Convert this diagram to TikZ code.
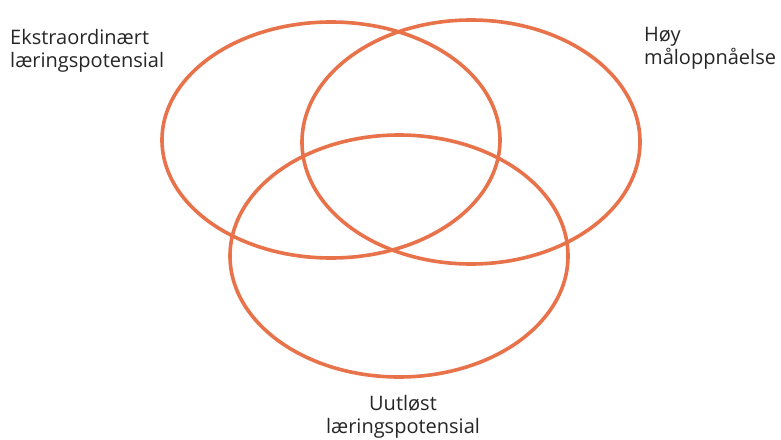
\documentclass[tikz,border=0pt]{standalone}
\usepackage{fontspec}
\setmainfont{Open Sans}
\usetikzlibrary{positioning,shapes.geometric}

\definecolor{ringorange}{RGB}{232,114,74}
\tikzset{
  ring/.style={ellipse, draw=ringorange, line width=3.6pt, inner sep=0pt},
  label/.style={font=\fontsize{20}{23.5}\selectfont, text=black!85, inner sep=0pt}
}

\begin{document}
\begin{tikzpicture}[x=1pt, y=-1pt]
    \useasboundingbox (0,0) rectangle (781,439);
    % three rings
    \node[ring, minimum width=338pt, minimum height=236pt] (ekstra) at (331,140) {};
    \node[ring, minimum width=338pt, minimum height=244pt] (hoy) at (471,142) {};
    \node[ring, minimum width=338pt, minimum height=242pt] (uutlost) at (399,256) {};
    % labels
    \node[label, align=left, anchor=north west] (ekstratxt) at (10,29) {Ekstraordinært\\læringspotensial};
    \node[label, align=left, anchor=north west] (hoytxt) at (644,27) {Høy\\måloppnåelse};
    \node[label, align=center, anchor=north] (uutlosttxt) at (403,395) {Uutløst\\læringspotensial};
\end{tikzpicture}
\end{document}
